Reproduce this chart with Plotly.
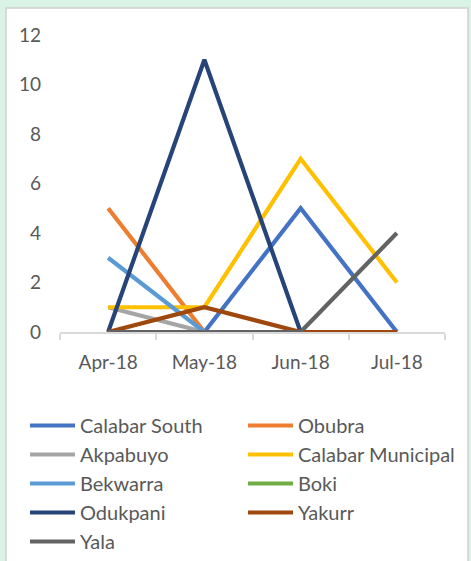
import plotly.graph_objects as go

months = ["Apr-18", "May-18", "Jun-18", "Jul-18"]
calabar_south = [0, 0, 5, 0]
obubra = [5, 0, 0, 0]
akpabuyo = [1, 0, 0, 0]
calabar_municipal = [1, 1, 7, 2]
bekwarra = [3, 0, 0, 0]
boki = [0, 0, 0, 0]
odukpani = [0, 11, 0, 0]
yakurr = [0, 1, 0, 0]
yala = [0, 0, 0, 4]

series = [
    ("Calabar South", calabar_south, "#4472C4"),
    ("Obubra", obubra, "#ED7D31"),
    ("Akpabuyo", akpabuyo, "#A5A5A5"),
    ("Calabar Municipal", calabar_municipal, "#FFC000"),
    ("Bekwarra", bekwarra, "#5B9BD5"),
    ("Boki", boki, "#70AD47"),
    ("Odukpani", odukpani, "#264478"),
    ("Yakurr", yakurr, "#9E480E"),
    ("Yala", yala, "#636363"),
]

FONT = "Lato, Calibri, Carlito, sans-serif"
FS = 19

fig = go.Figure()
for name, vals, col in series:
    fig.add_trace(go.Scatter(x=months, y=vals, name=name, mode="lines",
                             line=dict(color=col, width=4.2)))

W, H = 471, 561
L, R, T, B = 60, 26, 35, 229
PW, PH = W - L - R, H - T - B


def px_x(p):
    return (p - L) / PW


def px_y(p):
    return (H - B - p) / PH


fig.update_layout(
    width=W, height=H,
    margin=dict(l=L, r=R, t=T, b=B, pad=0, autoexpand=False),
    paper_bgcolor="#DAF3E7",
    plot_bgcolor="white",
    font=dict(family=FONT, size=FS, color="#595959"),
    showlegend=True,
    legend=dict(orientation="h", xref="paper", yref="paper",
                x=px_x(25), y=px_y(406), xanchor="left", yanchor="top",
                entrywidth=158, entrywidthmode="pixels", itemwidth=45,
                font=dict(family=FONT, size=20, color="#595959"),
                bgcolor="rgba(0,0,0,0)", traceorder="normal"),
    xaxis=dict(type="category", range=[-0.5, 3.5], showgrid=False,
               showline=True, linecolor="#D9D9D9", linewidth=1.5,
               ticks="outside", tickson="boundaries", ticklen=6, tickcolor="#D9D9D9",
               tickwidth=1.5, tickfont=dict(size=FS, color="#595959"), zeroline=False,
               ticklabelstandoff=12),
    yaxis=dict(range=[0, 12], dtick=2, showgrid=False, showline=False, zeroline=False,
               ticks="", tickfont=dict(size=FS, color="#595959"), ticklabelstandoff=18),
    shapes=[
        dict(type="rect", xref="paper", yref="paper",
             x0=px_x(6), x1=px_x(468), y0=px_y(570), y1=px_y(8),
             fillcolor="white", line=dict(color="#D0D0D0", width=1.5), layer="below"),
    ],
)

fig.write_html("out.html", config={"displayModeBar": False},
               post_script="document.body.style.margin='0';document.body.style.background='#DAF3E7';")
